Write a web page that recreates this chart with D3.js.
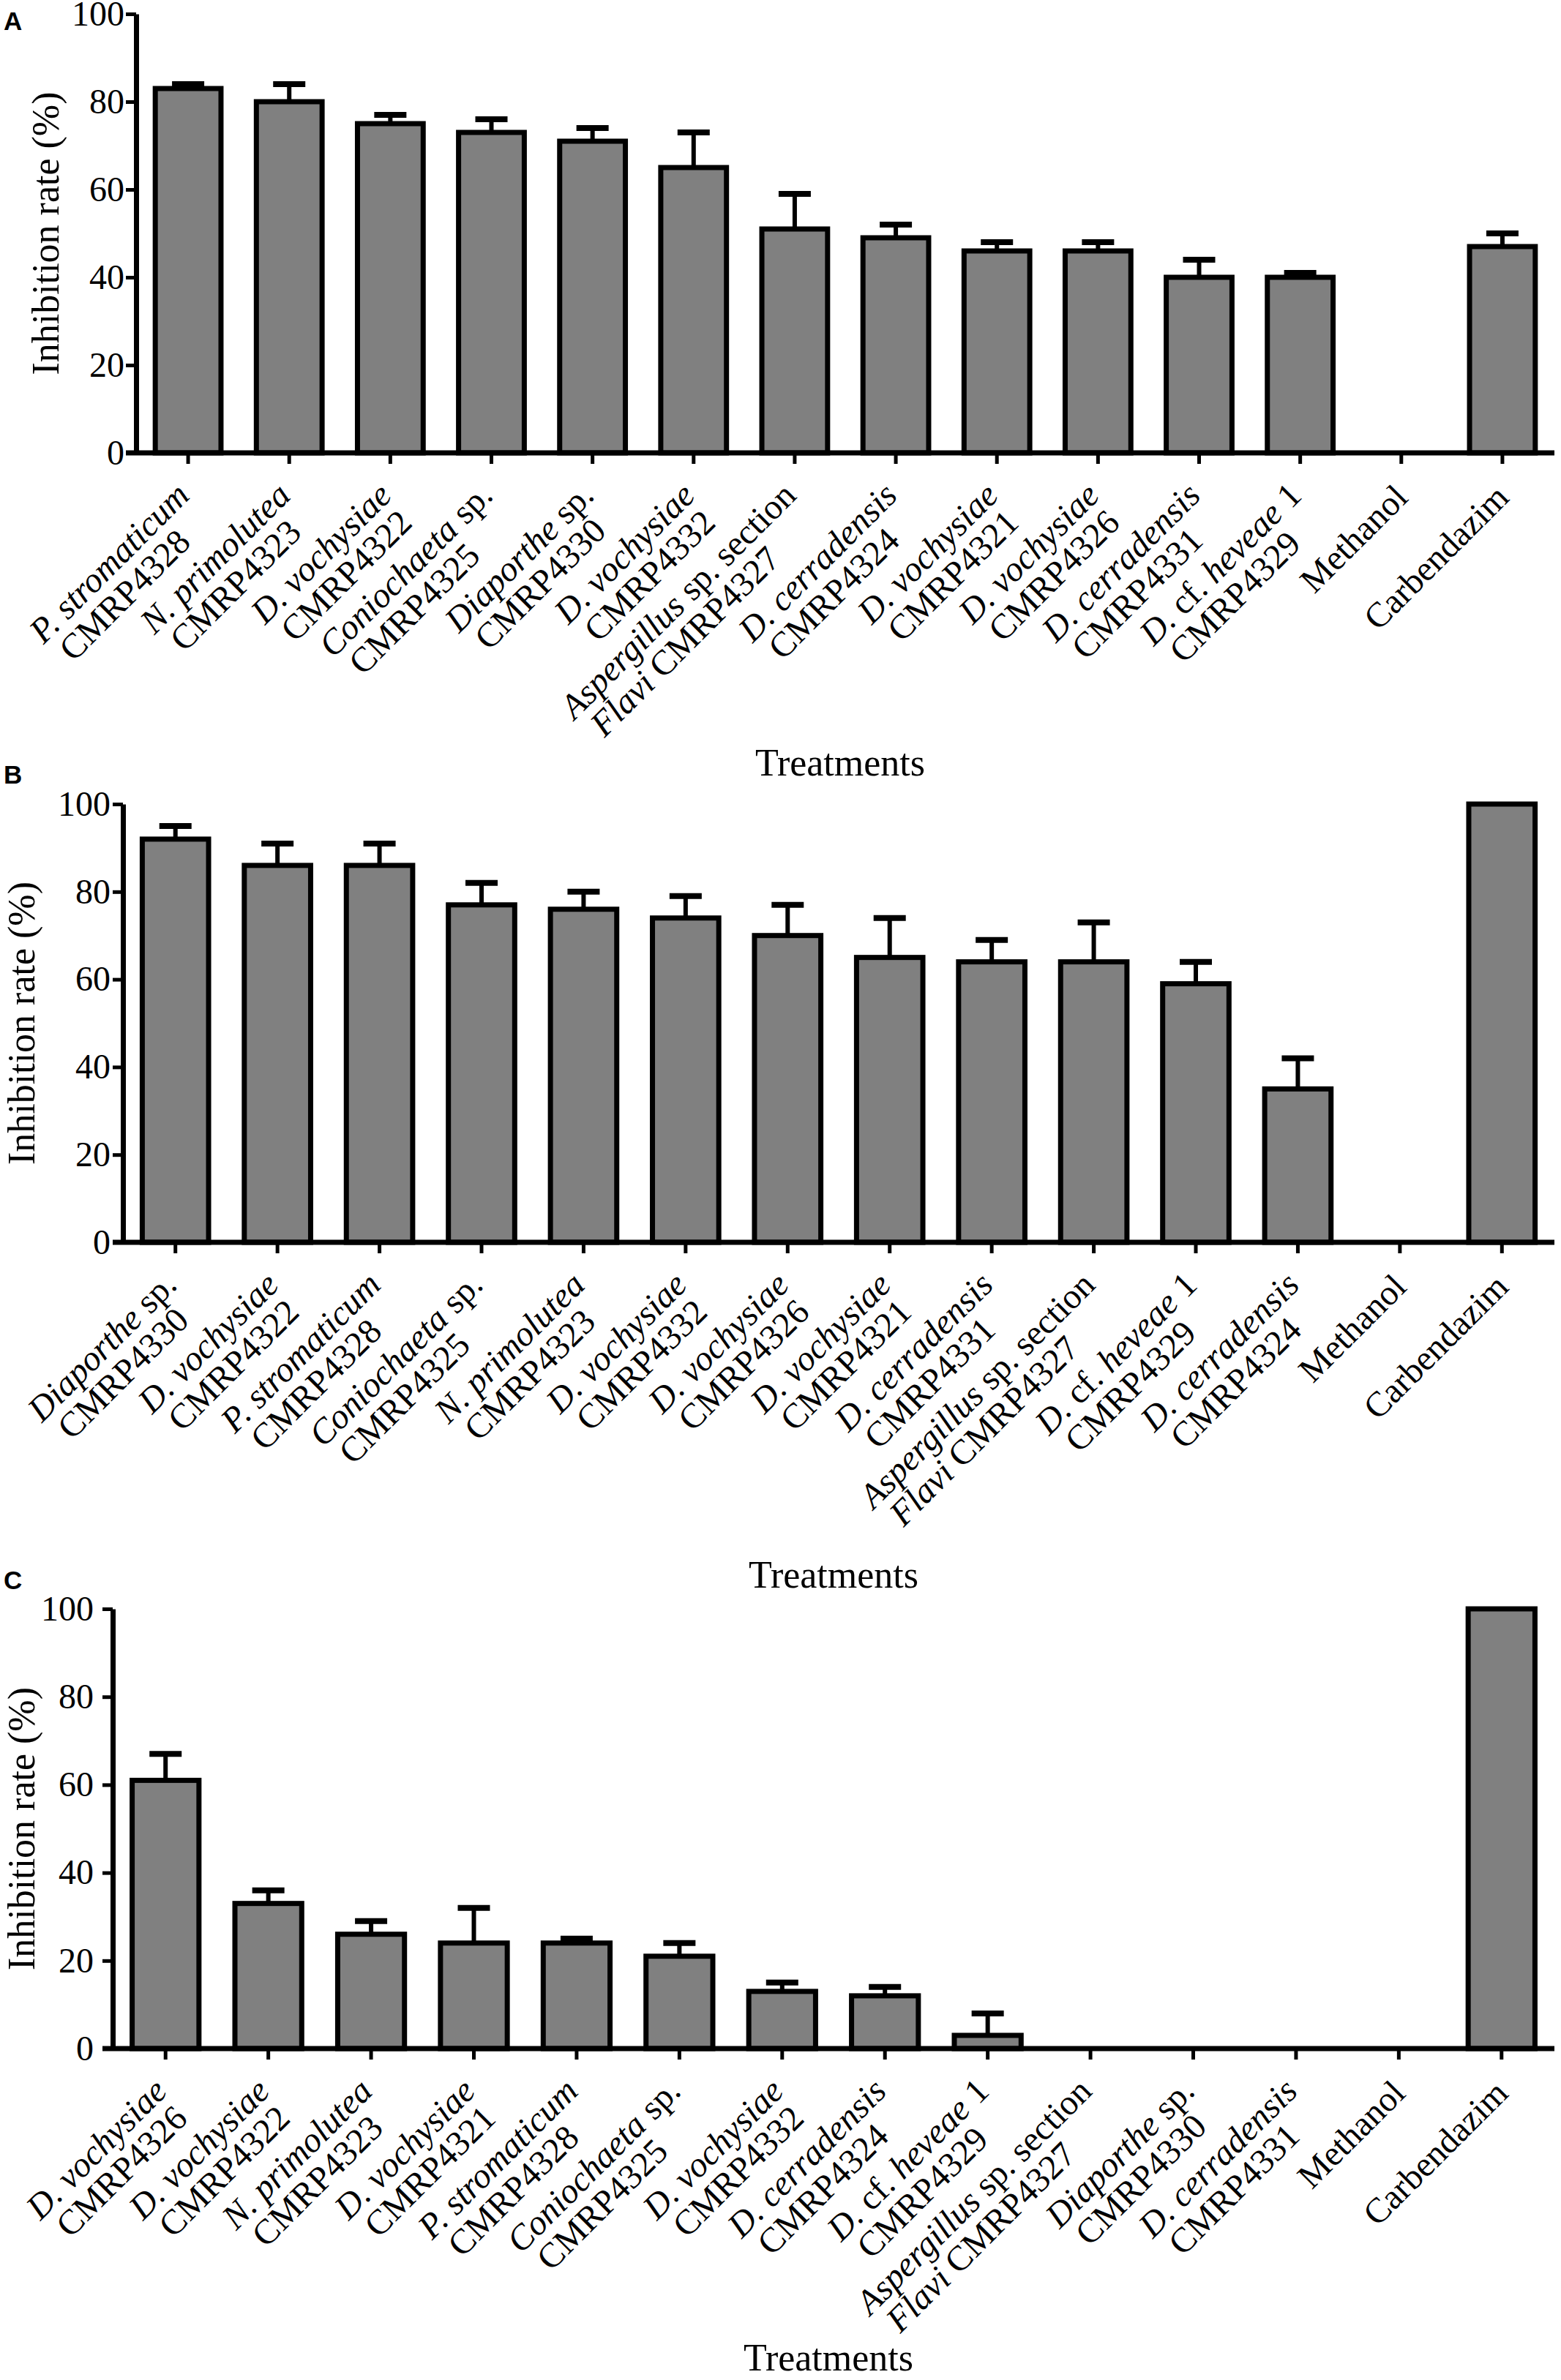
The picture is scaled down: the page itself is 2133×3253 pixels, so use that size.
<!DOCTYPE html>
<html>
<head>
<meta charset="utf-8">
<script src="https://cdn.jsdelivr.net/npm/d3@7/dist/d3.min.js"></script>
<style>
  body { margin: 0; background: #fff; }
  svg { display: block; }
</style>
</head>
<body>
<svg id="chart" width="2133" height="3253"></svg>
<script>
// Labels: "|" splits the two lines, text between "_" is italic
const labelsA = [
    "_P. stromaticum_|CMRP4328",
    "_N. primolutea_|CMRP4323",
    "_D. vochysiae_|CMRP4322",
    "_Coniochaeta_ sp.|CMRP4325",
    "_Diaporthe_ sp.|CMRP4330",
    "_D. vochysiae_|CMRP4332",
    "_Aspergillus_ sp. section|_Flavi_ CMRP4327",
    "_D. cerradensis_|CMRP4324",
    "_D. vochysiae_|CMRP4321",
    "_D. vochysiae_|CMRP4326",
    "_D. cerradensis_|CMRP4331",
    "_D._ cf. _heveae_ 1|CMRP4329",
    "Methanol",
    "Carbendazim"
];
const valuesA = [83, 80, 75, 73, 71, 65, 51, 49, 46, 46, 40, 40, 0, 47];
const errorsA = [1, 4, 2, 3, 3, 8, 8, 3, 2, 2, 4, 1, 0, 3];

const labelsB = [
    "_Diaporthe_ sp.|CMRP4330",
    "_D. vochysiae_|CMRP4322",
    "_P. stromaticum_|CMRP4328",
    "_Coniochaeta_ sp.|CMRP4325",
    "_N. primolutea_|CMRP4323",
    "_D. vochysiae_|CMRP4332",
    "_D. vochysiae_|CMRP4326",
    "_D. vochysiae_|CMRP4321",
    "_D. cerradensis_|CMRP4331",
    "_Aspergillus_ sp. section|_Flavi_ CMRP4327",
    "_D._ cf. _heveae_ 1|CMRP4329",
    "_D. cerradensis_|CMRP4324",
    "Methanol",
    "Carbendazim"
];
const valuesB = [92, 86, 86, 77, 76, 74, 70, 65, 64, 64, 59, 35, 0, 100];
const errorsB = [3, 5, 5, 5, 4, 5, 7, 9, 5, 9, 5, 7, 0, 0];

const labelsC = [
    "_D. vochysiae_|CMRP4326",
    "_D. vochysiae_|CMRP4322",
    "_N. primolutea_|CMRP4323",
    "_D. vochysiae_|CMRP4321",
    "_P. stromaticum_|CMRP4328",
    "_Coniochaeta_ sp.|CMRP4325",
    "_D. vochysiae_|CMRP4332",
    "_D. cerradensis_|CMRP4324",
    "_D._ cf. _heveae_ 1|CMRP4329",
    "_Aspergillus_ sp. section|_Flavi_ CMRP4327",
    "_Diaporthe_ sp.|CMRP4330",
    "_D. cerradensis_|CMRP4331",
    "Methanol",
    "Carbendazim"
];
const valuesC = [61, 33, 26, 24, 24, 21, 13, 12, 3, 0, 0, 0, 0, 100];
const errorsC = [6, 3, 3, 8, 1, 3, 2, 2, 5, 0, 0, 0, 0, 0];

const yTicks = [0, 20, 40, 60, 80, 100];

const SERIF = "'Times New Roman', 'Liberation Serif', serif";
const SANS = "Arial, 'Liberation Sans', sans-serif";
const RIGHT = 2124;

const panels = [
    { letter: "A", labels: labelsA, values: valuesA, errors: errorsA,
      axisX: 186, top: 19, bottom: 619, pad: 2, yTitleX: 80, xTitleY: 1060, letterY: 41 },
    { letter: "B", labels: labelsB, values: valuesB, errors: errorsB,
      axisX: 168, top: 1099, bottom: 1698, pad: 3, yTitleX: 47, xTitleY: 2170, letterY: 1071 },
    { letter: "C", labels: labelsC, values: valuesC, errors: errorsC,
      axisX: 154, top: 2199, bottom: 2800, pad: 12, yTitleX: 47, xTitleY: 3240, letterY: 2172 }
];

const svg = d3.select("#chart");

// write "_italic_ normal" text into tspans
const fillText = (textSel, str) => {
    str.split("_").forEach((part, k) => {
        if (!part) return;
        textSel.append("tspan")
            .attr("font-style", k % 2 === 1 ? "italic" : "normal")
            .text(part);
    });
};

const drawPanel = (p) => {
    const g = svg.append("g");

    const x = d3.scaleBand()
        .domain(d3.range(p.values.length))
        .range([p.axisX + 2, RIGHT - 2])
        .paddingInner(0.35)
        .paddingOuter(0.175);
    const y = d3.scaleLinear().domain([0, 100]).range([p.bottom, p.top]);
    const cx = (i) => x(i) + x.bandwidth() / 2;

    const rows = p.values.map((v, i) => ({ i, v, e: p.errors[i] }));
    const withErr = rows.filter((d) => d.v > 0 && d.e > 0);

    // error bars (upper only)
    const eb = g.append("g").attr("stroke", "#000");
    eb.selectAll("line.stem")
        .data(withErr)
        .join("line")
        .attr("class", "stem")
        .attr("x1", (d) => cx(d.i)).attr("x2", (d) => cx(d.i))
        .attr("y1", (d) => y(d.v)).attr("y2", (d) => y(d.v + d.e))
        .attr("stroke-width", 6);
    eb.selectAll("line.cap")
        .data(withErr)
        .join("line")
        .attr("class", "cap")
        .attr("x1", (d) => cx(d.i) - 22).attr("x2", (d) => cx(d.i) + 22)
        .attr("y1", (d) => y(d.v + d.e)).attr("y2", (d) => y(d.v + d.e))
        .attr("stroke-width", 8);

    // bars
    g.append("g").selectAll("rect")
        .data(rows.filter((d) => d.v > 0))
        .join("rect")
        .attr("x", (d) => x(d.i))
        .attr("width", x.bandwidth())
        .attr("y", (d) => y(d.v))
        .attr("height", (d) => y(0) - y(d.v))
        .attr("fill", "#808080")
        .attr("stroke", "#000")
        .attr("stroke-width", 7);

    // y axis
    const ya = g.append("g")
        .attr("transform", `translate(${p.axisX},0)`)
        .call(d3.axisLeft(y).tickValues(yTicks).tickSize(14).tickSizeOuter(0).tickPadding(p.pad));
    ya.select(".domain").attr("stroke-width", 7);
    ya.selectAll(".tick line").attr("stroke-width", 5);
    ya.selectAll(".tick text")
        .attr("font-family", SERIF).attr("font-size", 48).attr("fill", "#000");

    // x axis
    const xa = g.append("g")
        .attr("transform", `translate(0,${p.bottom})`)
        .call(d3.axisBottom(x).tickSize(15).tickSizeOuter(0).tickFormat(""));
    xa.select(".domain").remove();
    xa.selectAll(".tick line").attr("stroke-width", 5);
    xa.append("line")
        .attr("x1", p.axisX - 14).attr("x2", RIGHT)
        .attr("stroke", "#000").attr("stroke-width", 7);

    // rotated category labels, first line ends under the tick, second line starts with the first
    p.labels.forEach((lab, i) => {
        const lines = lab.split("|");
        const two = lines.length > 1;
        const lg = g.append("g")
            .attr("transform", `translate(${cx(i)},${p.bottom}) rotate(-45)`)
            .attr("font-family", SERIF)
            .attr("font-size", 48);
        const t1 = lg.append("text")
            .attr("text-anchor", "end")
            .attr("x", two ? -40 : -37)
            .attr("y", two ? 46 : 53);
        fillText(t1, lines[0]);
        if (two) {
            const len1 = t1.node().getComputedTextLength();
            const t2 = lg.append("text")
                .attr("text-anchor", "start")
                .attr("x", -40 - len1 + 12)
                .attr("y", 46 + 46);
            fillText(t2, lines[1]);
        }
    });

    // axis titles
    g.append("text")
        .attr("transform", `translate(${p.yTitleX},${(p.top + p.bottom) / 2}) rotate(-90)`)
        .attr("text-anchor", "middle")
        .attr("font-family", SERIF)
        .attr("font-size", 52)
        .text("Inhibition rate (%)");
    g.append("text")
        .attr("x", (p.axisX - 14 + RIGHT) / 2)
        .attr("y", p.xTitleY)
        .attr("text-anchor", "middle")
        .attr("font-family", SERIF)
        .attr("font-size", 52)
        .text("Treatments");

    // panel letter
    g.append("text")
        .attr("x", 5)
        .attr("y", p.letterY)
        .attr("font-family", SANS)
        .attr("font-weight", "bold")
        .attr("font-size", 35)
        .text(p.letter);
};

panels.forEach(drawPanel);
</script>
</body>
</html>
